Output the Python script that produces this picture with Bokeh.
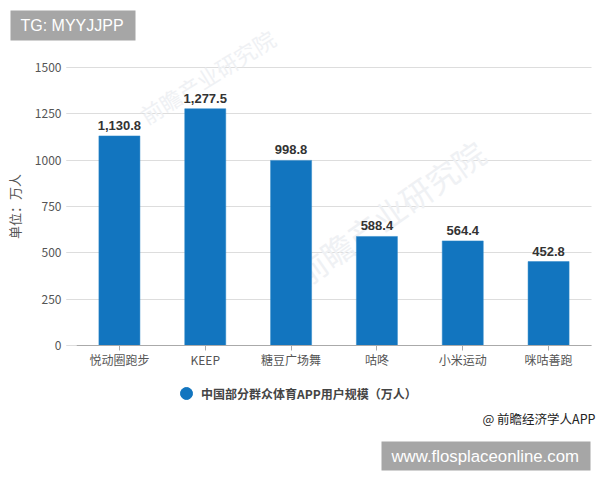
from bokeh.plotting import figure
from bokeh.core.properties import value
from bokeh.models import ColumnDataSource, FixedTicker, Label, BoxAnnotation, Legend, LegendItem, LabelSet
from bokeh.embed import file_html
from bokeh.resources import INLINE

categories = ["悦动圈跑步", "KEEP", "糖豆广场舞", "咕咚", "小米运动", "咪咕善跑"]
users = [1130.8, 1277.5, 998.8, 588.4, 564.4, 452.8]
y_ticks = [0, 250, 500, 750, 1000, 1250, 1500]
series_name = "中国部分群众体育APP用户规模（万人）"
y_title = "单位：万人"
credit = "@ 前瞻经济学人APP"
tag_top = "TG: MYYJJPP"
tag_bottom = "www.flosplaceonline.com"
watermark = "前瞻产业研究院"

CJK = "Noto Sans CJK SC"
BLUE = "#1275bf"
W, H = 598, 473

# The frame fills the page, so the notes around the chart are not clipped.
# Pixel layout of the plot area inside the page:
LEFT, RIGHT, TOP, BOTTOM = 76, 591, 67, 345
x_per_px = len(categories) / (RIGHT - LEFT)
y_per_px = y_ticks[-1] / (BOTTOM - TOP)
x_range = (-0.5 - LEFT * x_per_px, len(categories) - 0.5 + (W - RIGHT) * x_per_px)
y_range = (-(H - BOTTOM) * y_per_px, y_ticks[-1] + TOP * y_per_px)
positions = list(range(len(categories)))

p = figure(x_range=x_range, y_range=y_range, width=W, height=H,
           output_backend="svg", toolbar_location=None,
           min_border_left=0, min_border_right=0, min_border_top=0, min_border_bottom=0)
p.outline_line_color = None
p.background_fill_color = "white"
p.xgrid.visible = False
p.ygrid.grid_line_color = "#dddddd"
p.ygrid.grid_line_width = 1.2
p.ygrid.cross_bounds = (-0.5 - 10 * x_per_px, len(categories) - 0.5)

# watermark (behind the bars)
for sx, sy, size, angle in [(150, H - 130, 22, 32), (310, H - 295, 32, 35)]:
    p.add_layout(Label(x=sx, y=sy, x_units="screen", y_units="screen", text=watermark, angle=angle,
                       angle_units="deg", text_font=CJK, text_font_size=f"{size}px",
                       text_color="#eff1f4", level="underlay"))

source = ColumnDataSource(dict(pos=positions, val=users, lab=[f"{v:,.1f}" for v in users]))
p.vbar(x="pos", top="val", width=0.478, source=source, fill_color=BLUE, line_color="#2a86c8", line_width=0.5)
p.add_layout(LabelSet(x="pos", y="val", text="lab", source=source, text_align="center",
                      text_baseline="bottom", y_offset=6, text_font=value("Liberation Sans"),
                      text_font_size="13px", text_font_style="bold", text_color="#333333"))

yax = p.yaxis[0]
yax.fixed_location = -0.5
yax.bounds = (0, y_ticks[-1])
yax.ticker = FixedTicker(ticks=y_ticks)
yax.axis_line_color = None
yax.major_tick_line_color = "#dddddd"
yax.major_tick_out = 10
yax.major_tick_in = 0
yax.minor_tick_line_color = None
yax.major_label_standoff = 5
yax.major_label_text_font = CJK
yax.major_label_text_font_size = "12px"
yax.major_label_text_color = "#555555"
yax.axis_label = y_title
yax.axis_label_text_font = CJK
yax.axis_label_text_font_size = "13px"
yax.axis_label_text_font_style = "normal"
yax.axis_label_text_color = "#555555"
yax.axis_label_standoff = 8

xax = p.xaxis[0]
xax.fixed_location = 0
xax.bounds = (-0.5, len(categories) - 0.5)
xax.ticker = FixedTicker(ticks=positions)
xax.major_label_overrides = dict(zip(positions, categories))
xax.axis_line_color = "#aaaaaa"
xax.axis_line_width = 1.2
xax.major_tick_line_color = "#aaaaaa"
xax.major_tick_out = 5
xax.major_tick_in = 0
xax.minor_tick_line_color = None
xax.major_label_standoff = 0
xax.major_label_text_font = CJK
xax.major_label_text_font_size = "12px"
xax.major_label_text_color = "#555555"
xax.major_label_orientation = "horizontal"

# legend: the swatch's own point lies off the page
dot = p.scatter(x=[0], y=[-5000], marker="circle", size=12, fill_color=BLUE, line_color=BLUE)
leg = Legend(items=[LegendItem(label=series_name, renderers=[dot])], location=(171, H - 408),
             border_line_color=None, background_fill_alpha=0, padding=0, margin=0,
             label_text_font=CJK, label_text_font_size="12px", label_text_font_style="bold",
             label_text_color="#444444", glyph_width=30, glyph_height=30, label_standoff=0)
p.add_layout(leg, "center")

# credit
p.add_layout(Label(x=595, y=H - 418, x_units="screen", y_units="screen", text=credit, text_align="right",
                   text_baseline="middle", text_font=CJK, text_font_size="12.5px", text_color="#222222"))

# grey tags
for left, right, top, bottom, txt, tx, size in [
    (10, 135, H - 10, H - 40, tag_top, 20, "16px"),
    (381, 590, H - 441, H - 470, tag_bottom, 391, "16.8px"),
]:
    p.add_layout(BoxAnnotation(left=left, right=right, top=top, bottom=bottom,
                               left_units="screen", right_units="screen", top_units="screen", bottom_units="screen",
                               fill_color="#a6a6a6", fill_alpha=1, line_color=None, level="annotation"))
    p.add_layout(Label(x=tx, y=(top + bottom) / 2, x_units="screen", y_units="screen", text=txt,
                       text_baseline="middle", text_font="Liberation Sans", text_font_size=size,
                       text_color="white", level="overlay"))

open("out.html", "w").write(file_html(p, INLINE))
